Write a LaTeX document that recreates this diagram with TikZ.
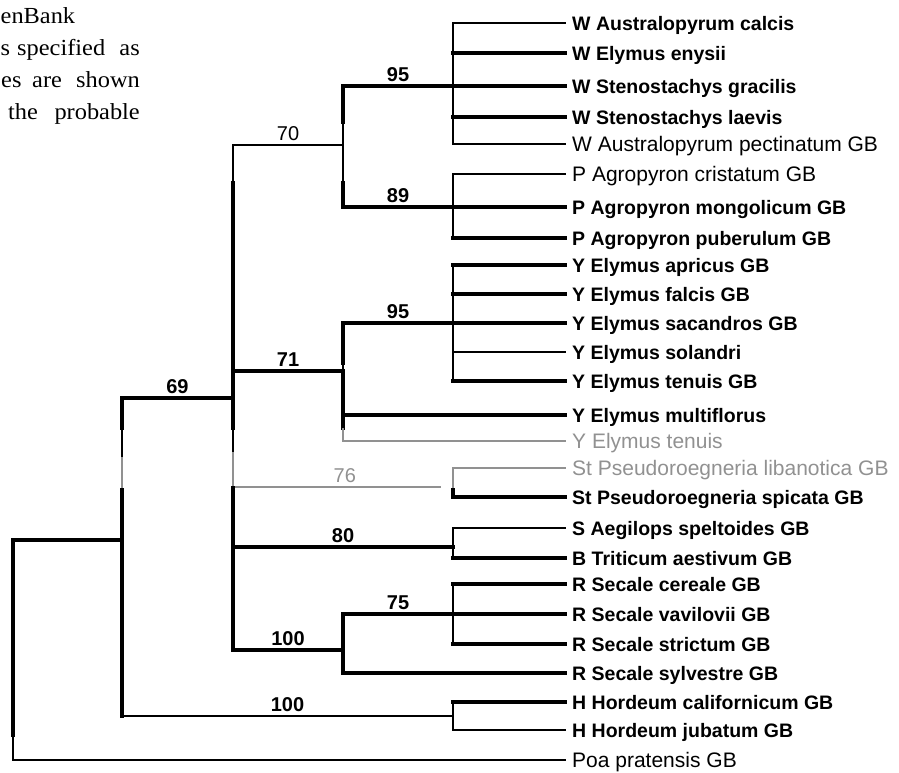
\documentclass[tikz,border=0pt]{standalone}
\usepackage{fontspec}
\newfontfamily\arialf{Liberation Sans}
\newfontfamily\serff{Liberation Serif}
\definecolor{tgray}{RGB}{145,145,145}
\tikzset{
  thk/.style={line width=3.6pt, black},
  med/.style={line width=2pt, black},
  thn/.style={line width=1.5pt, black},
  gthn/.style={line width=1.5pt, tgray},
  lb/.style={anchor=base west, inner sep=0pt, yshift=-7pt, font=\arialf\bfseries\fontsize{19.5}{21}\selectfont},
  ln/.style={anchor=base west, inner sep=0pt, yshift=-7.5pt, font=\arialf\fontsize{21}{23}\selectfont},
  lg/.style={ln, text=tgray},
  lblb/.style={above, inner sep=3pt, font=\arialf\bfseries\fontsize{20}{22}\selectfont},
  lbln/.style={above, inner sep=3.5pt, font=\arialf\fontsize{20}{22}\selectfont},
  lblg/.style={lbln, text=tgray},
  capw/.style={anchor=base west, inner sep=0pt, font=\serff\fontsize{23}{26}\selectfont},
  cape/.style={anchor=base east, inner sep=0pt, font=\serff\fontsize{23}{26}\selectfont},
}
\newcommand{\capword}[1]{\scalebox{1.06}[1]{#1}}
\begin{document}
\begin{tikzpicture}[x=1pt, y=-1pt, line cap=rect]
\useasboundingbox (0,0) rectangle (899,772);

% caption fragment (cut at left edge)
\node[capw] (c1) at (0.5,23) {\capword{enBank}};
\node[capw] (c2a) at (0.5,55.5) {\capword{s}};
\node[capw] (c2b) at (17,55.5) {\capword{specified}};
\node[cape] (c2c) at (140,55.5) {\capword{as}};
\node[capw] (c3a) at (1,87.5) {\capword{es}};
\node[capw] (c3b) at (32,87.5) {\capword{are}};
\node[cape] (c3c) at (140,87.5) {\capword{shown}};
\node[capw] (c4a) at (8,119) {\capword{the}};
\node[cape] (c4b) at (140,119) {\capword{probable}};

% internal nodes
\coordinate (root) at (13,540);
\coordinate (nA) at (122,540);
\coordinate (nB) at (233,398);
\coordinate (n70) at (343,145);
\coordinate (nW) at (453,86);
\coordinate (nP) at (453,207);
\coordinate (n71) at (343,371);
\coordinate (nY) at (453,323);
\coordinate (e76) at (440,487);
\coordinate (nSt) at (453,482);
\coordinate (nS) at (453,547);
\coordinate (nR) at (343,650);
\coordinate (nR75) at (453,614);
\coordinate (nH) at (453,716);

% leaves
\foreach \i/\y/\ls/\ts/\pn/\txt in {
  1/23/thn/lb/nW/W Australopyrum calcis,
  2/53/thk/lb/nW/W Elymus enysii,
  3/86/thk/lb/nW/W Stenostachys gracilis,
  4/117/thk/lb/nW/W Stenostachys laevis,
  5/144/thn/ln/nW/W Australopyrum pectinatum GB,
  6/174/thn/ln/nP/P Agropyron cristatum GB,
  7/207/thk/lb/nP/P Agropyron mongolicum GB,
  8/238/thk/lb/nP/P Agropyron puberulum GB,
  9/265/thk/lb/nY/Y Elymus apricus GB,
  10/294/thk/lb/nY/Y Elymus falcis GB,
  11/323/thk/lb/nY/Y Elymus sacandros GB,
  12/352/thn/lb/nY/Y Elymus solandri,
  13/381/thk/lb/nY/Y Elymus tenuis GB,
  14/415/thk/lb/n71/Y Elymus multiflorus,
  15/441/gthn/lg/n71/Y Elymus tenuis,
  16/468/gthn/lg/nSt/St Pseudoroegneria libanotica GB,
  17/497/thk/lb/nSt/St Pseudoroegneria spicata GB,
  18/528/thn/lb/nS/S Aegilops speltoides GB,
  19/558/thk/lb/nS/B Triticum aestivum GB,
  20/584/thk/lb/nR75/R Secale cereale GB,
  21/614/thk/lb/nR75/R Secale vavilovii GB,
  22/644/thk/lb/nR75/R Secale strictum GB,
  23/673/thk/lb/nR/R Secale sylvestre GB,
  24/702/thk/lb/nH/H Hordeum californicum GB,
  25/730/thn/lb/nH/H Hordeum jubatum GB,
  26/760/thn/ln/root/Poa pratensis GB}{
  \coordinate (e\i) at (565,\y);
  \draw[\ls] (\pn |- e\i) -- (e\i);
  \node[\ts] (t\i) at (572,\y) {\txt};
}

% horizontal branches with support values
\draw[thk] (root) -- (nA);
\draw[thk] (nA |- nB) -- node[lblb] (l69) {69} (nB);
\draw[med] (nA |- nH) -- node[lblb] (l100h) {100} (nH);
\draw[thn] (nB |- n70) -- node[lbln] (l70) {70} (n70);
\draw[thk] (nB |- n71) -- node[lblb] (l71) {71} (n71);
\draw[gthn] (nB |- e76) -- node[lblg, pos=0.54] (l76) {76} (e76);
\draw[thk] (nB |- nS) -- node[lblb] (l80) {80} (nS);
\draw[thk] (nB |- nR) -- node[lblb] (l100r) {100} (nR);
\draw[thk] (n70 |- nW) -- node[lblb] (l95w) {95} (nW);
\draw[thk] (n70 |- nP) -- node[lblb] (l89) {89} (nP);
\draw[thk] (n71 |- nY) -- node[lblb] (l95y) {95} (nY);
\draw[thk] (nR |- nR75) -- node[lblb] (l75) {75} (nR75);

% vertical lines
\draw[thn] (nW |- e1) -- (nW |- e5);
\draw[thn] (nP |- e6) -- (nP |- e8);
\draw[thn] (nY |- e9) -- (nY |- e13);
\draw[gthn] (nSt |- e16) -- (453,490);
\draw[thk] (453,490) -- (nSt |- e17);
\draw[thn] (nS |- e18) -- (nS |- e19);
\draw[thn] (nR75 |- e20) -- (nR75 |- e22);
\draw[thk] (nR |- nR75) -- (nR |- e23);
\draw[thn] (nH |- e24) -- (nH |- e25);

\draw[thn] (n70 |- nW) -- (n70 |- nP);
\draw[thk] (n70 |- nW) -- (343,122);
\draw[thk] (343,183) -- (n70 |- nP);

\draw[thk] (n71 |- nY) -- (343,363);
\draw[thn] (343,363) -- (343,375);
\draw[thk] (343,375) -- (343,428);
\draw[gthn] (343,429) -- (n71 |- e15);

\draw[thn] (nB |- n70) -- (233,183);
\draw[thk] (233,183) -- (233,428);
\draw[thn] (233,428) -- (233,452);
\draw[gthn] (233,453) -- (233,486);
\draw[thk] (233,488) -- (nB |- nR);

\draw[thk] (nA |- nB) -- (122,428);
\draw[thn] (122,428) -- (122,457);
\draw[gthn] (122,458) -- (122,489);
\draw[thk] (122,490) -- (nA |- nH);

\draw[thk] (root) -- (13,735);
\draw[thn] (13,735) -- (root |- e26);
\end{tikzpicture}
\end{document}
